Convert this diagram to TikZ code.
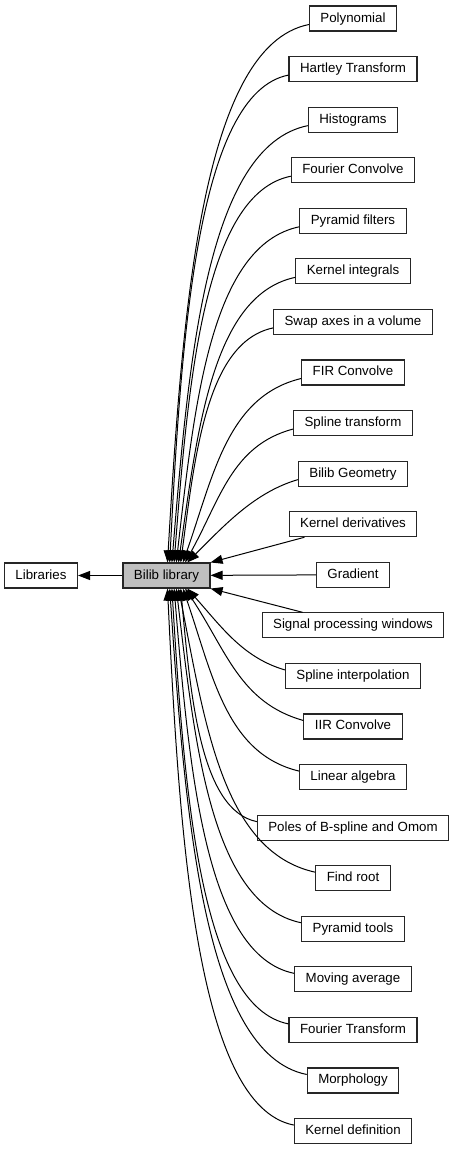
\documentclass[tikz,border=0pt]{standalone}
\usepackage{fontspec}
\setmainfont{Liberation Sans}
\usetikzlibrary{calc,arrows.meta}

\begin{document}
\begin{tikzpicture}[x=1pt,y=1pt,
  box/.style={draw=black!85,line width=1.1pt,fill=white,minimum height=25pt,
    inner xsep=11pt,inner ysep=0pt,text height=10pt,text depth=3pt,
    font=\fontsize{13.3}{16}\selectfont},
  edge/.style={line width=1pt,-{Triangle[length=12pt,width=9pt]}}]

\useasboundingbox (0,0) rectangle (453,-1152);

% Group and its parent
\node[box,fill=gray!50] (bilib) at (166.5,-575.5) {Bilib library};
\node[box] (libs) at (41,-575.5) {Libraries};
\draw[edge] (bilib) -- (libs);

% Sub-groups, one column on the right
\foreach \name/\txt [count=\i] in {poly/Polynomial, hartley/Hartley Transform,
    histo/Histograms, fconv/Fourier Convolve, pyrfilt/Pyramid filters,
    kint/Kernel integrals, swap/Swap axes in a volume, fir/FIR Convolve,
    splinetr/Spline transform, geom/Bilib Geometry, kderiv/Kernel derivatives,
    gradient/Gradient, spw/Signal processing windows, splineint/Spline interpolation,
    iir/IIR Convolve, linalg/Linear algebra, poles/Poles of B-spline and Omom,
    root/Find root, pyrtools/Pyramid tools, movavg/Moving average,
    ftrans/Fourier Transform, morph/Morphology, kdef/Kernel definition}
  \node[box] (\name) at (353,{-18.5-50.57*(\i-1)}) {\txt};

% Straight edges
\draw[edge] (gradient) -- (bilib);
\draw[edge] (kderiv) -- (bilib.north east);
\draw[edge] (spw) -- (bilib.south east);

% Curved edges from above
\foreach \name [count=\i] in {poly,hartley,histo,fconv,pyrfilt,kint,swap,fir,splinetr,geom}
  \draw[edge] let \p1=([yshift=-6pt]\name.west), \p2=([xshift={1+2.2*(\i-1)}]bilib.north) in
    (\p1) .. controls +({-(0.85-0.35*(\x1-\x2)/abs(\y1-\y2))*(\x1-\x2)},{-0.15*min(\x1-\x2,abs(\y1-\y2))})
      and +({min(0.4*(\x1-\x2)/abs(\y1-\y2),0.35)*(\x1-\x2)},{0.47*(\y1-\y2)}) .. (\p2);

% Curved edges from below
\foreach \name [count=\i] in {splineint,iir,linalg,poles,root,pyrtools,movavg,ftrans,morph,kdef}
  \draw[edge] let \p1=([yshift=6pt]\name.west), \p2=([xshift={1+2.2*(10-\i)}]bilib.south) in
    (\p1) .. controls +({-(0.85-0.35*(\x1-\x2)/abs(\y1-\y2))*(\x1-\x2)},{0.15*min(\x1-\x2,abs(\y1-\y2))})
      and +({min(0.4*(\x1-\x2)/abs(\y1-\y2),0.35)*(\x1-\x2)},{0.47*(\y1-\y2)}) .. (\p2);

\end{tikzpicture}
\end{document}
